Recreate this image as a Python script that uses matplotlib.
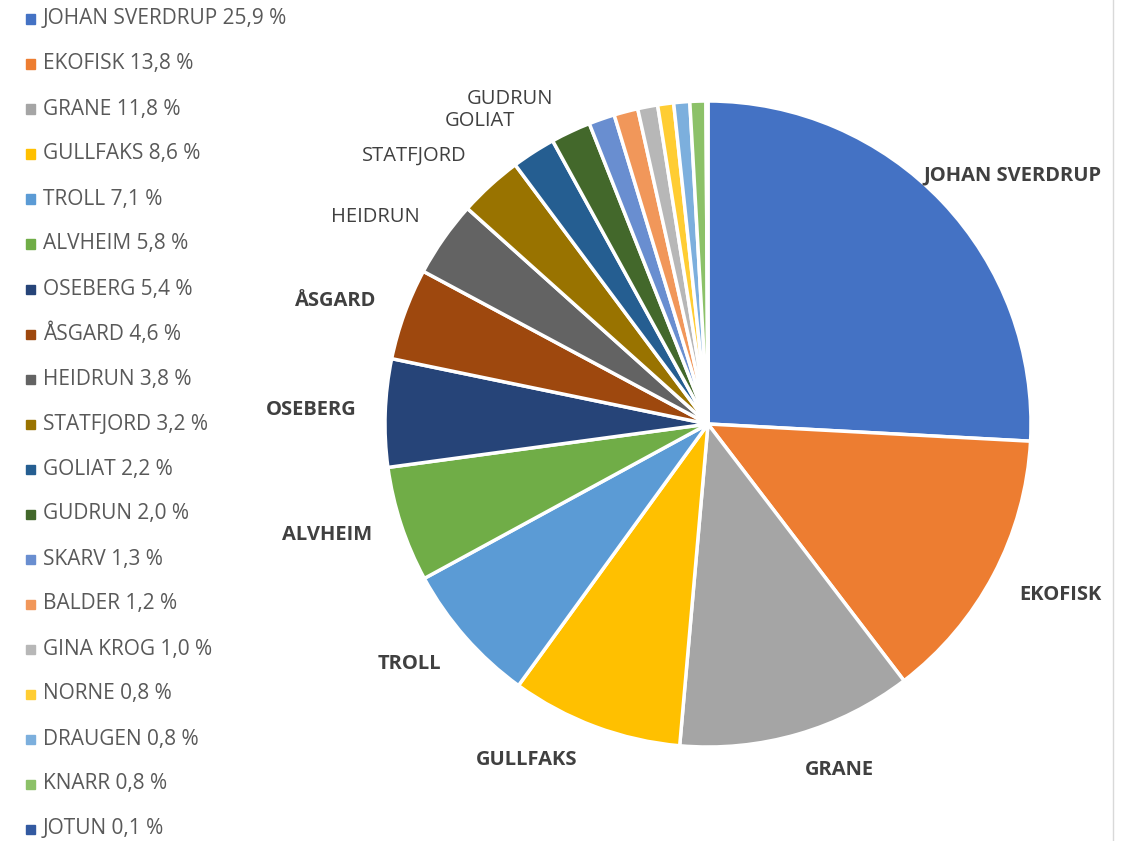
import matplotlib.pyplot as plt
from matplotlib.patches import Rectangle

fields = ['JOHAN SVERDRUP', 'EKOFISK', 'GRANE', 'GULLFAKS', 'TROLL', 'ALVHEIM',
          'OSEBERG', 'ÅSGARD', 'HEIDRUN', 'STATFJORD', 'GOLIAT', 'GUDRUN',
          'SKARV', 'BALDER', 'GINA KROG', 'NORNE', 'DRAUGEN', 'KNARR', 'JOTUN']
shares = [25.9, 13.8, 11.8, 8.6, 7.1, 5.8, 5.4, 4.6, 3.8, 3.2, 2.2, 2.0,
          1.3, 1.2, 1.0, 0.8, 0.8, 0.8, 0.1]
colors = ['#4472C4', '#ED7D31', '#A5A5A5', '#FFC000', '#5B9BD5', '#70AD47',
          '#264478', '#9E480E', '#636363', '#997300', '#255E91', '#43682B',
          '#698ED0', '#F1975A', '#B7B7B7', '#FFCD33', '#7CAFDD', '#8CC168',
          '#335AA1']

# label placement (pie units, radius = 1), only the labelled slices
label_pos = {
    'JOHAN SVERDRUP': (0.944, 0.768, 'bold'),
    'EKOFISK': (1.090, -0.529, 'bold'),
    'GRANE': (0.406, -1.071, 'bold'),
    'GULLFAKS': (-0.563, -1.040, 'bold'),
    'TROLL': (-0.923, -0.743, 'bold'),
    'ALVHEIM': (-1.180, -0.344, 'bold'),
    'OSEBERG': (-1.229, 0.043, 'bold'),
    'ÅSGARD': (-1.152, 0.381, 'bold'),
    'HEIDRUN': (-1.031, 0.641, 'normal'),
    'STATFJORD': (-0.910, 0.830, 'normal'),
    'GOLIAT': (-0.706, 0.938, 'normal'),
    'GUDRUN': (-0.613, 1.006, 'normal'),
}

plt.rcParams['font.family'] = ['Open Sans', 'DejaVu Sans']

W, H = 1127, 841
fig = plt.figure(figsize=(W / 100, H / 100), dpi=100)

cx, cy, r = 708, 424, 323
ax = fig.add_axes([(cx - r) / W, (H - cy - r) / H, 2 * r / W, 2 * r / H])
ax.pie(shares, colors=colors, startangle=90, counterclock=False,
       wedgeprops={'edgecolor': 'white', 'linewidth': 2.5})
ax.set_xlim(-1, 1)
ax.set_ylim(-1, 1)
ax.set_aspect('auto')
ax.axis('off')

for name, (x, y, w) in label_pos.items():
    ax.text(x, y, name, ha='center', va='center', fontsize=14.5,
            fontweight=w, color='#404040')

# legend down the left side
for i, (name, val, c) in enumerate(zip(fields, shares, colors)):
    yc = 19 + 45 * i
    fig.patches.append(Rectangle((26 / W, (H - yc - 4.5) / H), 9 / W, 9 / H,
                                 transform=fig.transFigure, color=c))
    fig.text(43 / W, (H - yc) / H, f'{name} {val:.1f} %'.replace('.', ','),
             ha='left', va='center', fontsize=15, color='#595959')

fig.add_artist(plt.Line2D([1113 / W, 1113 / W], [0, 1], color='#D9D9D9',
                          linewidth=1, transform=fig.transFigure))

fig.savefig('out.png', dpi=100)
